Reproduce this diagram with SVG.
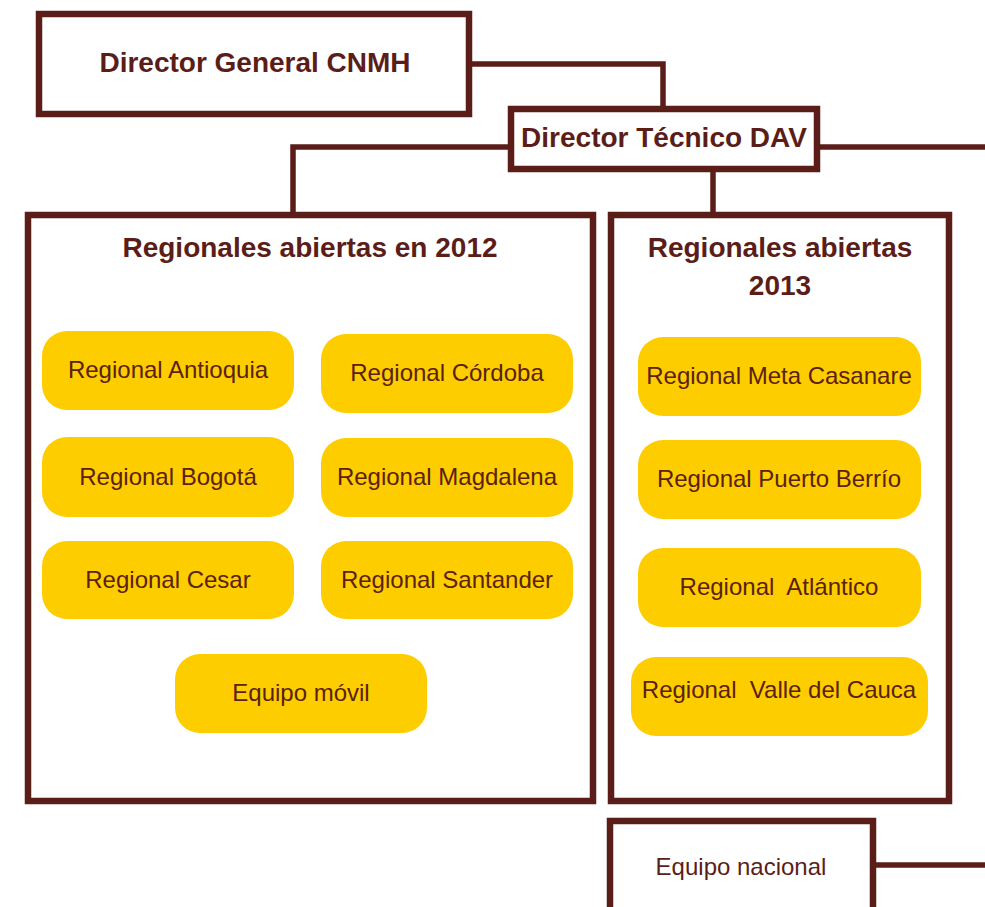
<svg xmlns="http://www.w3.org/2000/svg" width="985" height="907" viewBox="0 0 985 907">
<style>
.box{fill:#fff;stroke:#5b1d18;stroke-width:6.5}
.pill{fill:#fecd00}
.con{fill:none;stroke:#5b1d18;stroke-width:5.5}
.t{font-family:"Liberation Sans",Arial,sans-serif;fill:#5b1d18;text-anchor:middle}
.b{font-weight:bold;font-size:28px}
.h{font-weight:bold;font-size:28px}
.p{font-size:24px;fill:#5a220f}
</style>
<rect x="0" y="0" width="985" height="907" fill="#fff"/>
<g id="connectors">
<path class="con" d="M472,64 H663 V107"/>
<path class="con" d="M508,147 H293 V213"/>
<path class="con" d="M820,147 H985"/>
<path class="con" d="M713,172 V213"/>
<path class="con" d="M876,865 H985"/>
</g>
<g id="director-general">
<rect class="box" x="39" y="14" width="430" height="100"/>
<text class="t b" x="255" y="72">Director General CNMH</text>
</g>
<g id="director-tecnico">
<rect class="box" x="511" y="109" width="306" height="60"/>
<text class="t b" x="664" y="147">Director Técnico DAV</text>
</g>
<g id="regionales-2012">
<rect class="box" x="28" y="215" width="565" height="586"/>
<text class="t h" x="310" y="257">Regionales abiertas en 2012</text>
</g>
<g id="regionales-2013">
<rect class="box" x="611" y="215" width="338" height="586"/>
<text class="t h" x="780" y="257">Regionales abiertas</text>
<text class="t h" x="780" y="295">2013</text>
</g>
<g id="antioquia"><rect class="pill" x="42" y="331" width="252" height="79" rx="25"/><text class="t p" x="168" y="378">Regional Antioquia</text></g>
<g id="bogota"><rect class="pill" x="42" y="437" width="252" height="80" rx="25"/><text class="t p" x="168" y="485">Regional Bogotá</text></g>
<g id="cesar"><rect class="pill" x="42" y="541" width="252" height="78" rx="25"/><text class="t p" x="168" y="588">Regional Cesar</text></g>
<g id="cordoba"><rect class="pill" x="321" y="334" width="252" height="79" rx="25"/><text class="t p" x="447" y="381">Regional Córdoba</text></g>
<g id="magdalena"><rect class="pill" x="321" y="438" width="252" height="79" rx="25"/><text class="t p" x="447" y="485">Regional Magdalena</text></g>
<g id="santander"><rect class="pill" x="321" y="541" width="252" height="78" rx="25"/><text class="t p" x="447" y="588">Regional Santander</text></g>
<g id="equipo-movil"><rect class="pill" x="175" y="654" width="252" height="79" rx="25"/><text class="t p" x="301" y="701">Equipo móvil</text></g>
<g id="meta-casanare"><rect class="pill" x="638" y="337" width="283" height="79" rx="25"/><text class="t p" x="779" y="384">Regional Meta Casanare</text></g>
<g id="puerto-berrio"><rect class="pill" x="638" y="440" width="283" height="79" rx="25"/><text class="t p" x="779" y="487">Regional Puerto Berrío</text></g>
<g id="atlantico"><rect class="pill" x="638" y="548" width="283" height="79" rx="25"/><text class="t p" x="779" y="595" xml:space="preserve">Regional  Atlántico</text></g>
<g id="valle-del-cauca"><rect class="pill" x="631" y="657" width="297" height="79" rx="25"/><text class="t p" x="779" y="698" xml:space="preserve">Regional  Valle del Cauca</text></g>
<g id="equipo-nacional">
<rect class="box" x="610" y="821" width="263" height="100"/>
<text class="t" x="741" y="875" style="font-size:24px">Equipo nacional</text>
</g>
</svg>
